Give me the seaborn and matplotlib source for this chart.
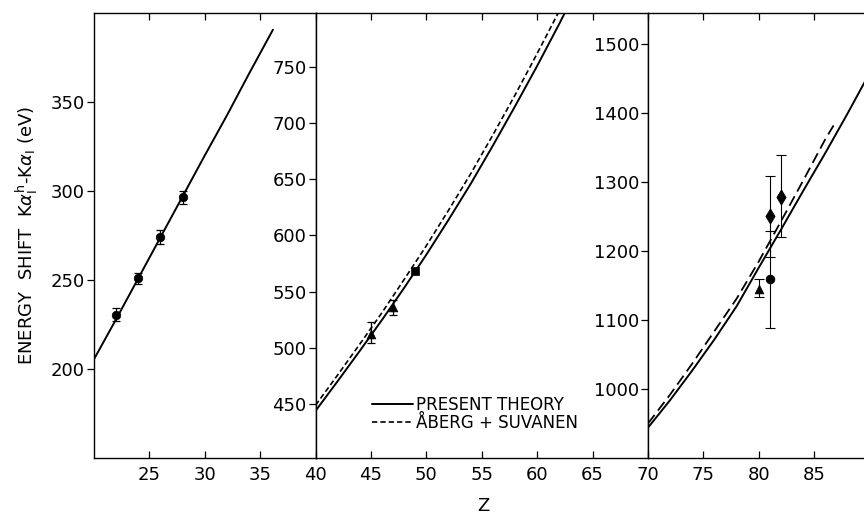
import numpy as np
import pandas as pd
import matplotlib
matplotlib.use("Agg")
import matplotlib.pyplot as plt
import seaborn as sns

# ---------------- data ----------------
left_z = [20, 22, 24, 26, 28, 30, 32, 34, 36.15]
left_theory = [205.5, 228, 251, 274, 297, 320, 342.5, 366, 390.6]
left_pts_z = [22, 24, 26, 28]
left_pts_y = [230.5, 251, 274, 296.5]
left_pts_err = [3.5, 3, 4, 3.7]

mid_z = [40, 42, 44, 46, 48, 50, 52, 54, 56, 58, 60, 62, 63]
mid_theory = [444, 470.5, 497.5, 525, 553.5, 583, 614, 646, 680, 715, 751, 788.5, 808]
mid_aberg = [449, 476, 503.5, 531.5, 561, 591, 622.5, 655, 689.5, 725, 762, 800, 820]
mid_tri_z = [45, 47]
mid_tri_y = [512, 536]
mid_tri_lo = [8, 7]
mid_tri_hi = [11, 7]
mid_sq_z = [49]
mid_sq_y = [568.5]

right_z = [70, 72, 74, 76, 78, 80, 82, 84, 86, 88, 90]
right_theory = [944, 984, 1027, 1072, 1120, 1176, 1231, 1287, 1342, 1399, 1458]
right_aberg_z = [70, 72, 74, 76, 78, 80, 82, 84, 86, 86.75]
right_aberg = [950, 992, 1037, 1084, 1131, 1185, 1243, 1302, 1362, 1382]
right_tri_z = [80]
right_tri_y = [1145]
right_tri_lo = [12]
right_tri_hi = [14]
right_dia_z = [81, 82]
right_dia_y = [1251, 1279]
right_dia_lo = [59, 59]
right_dia_hi = [58, 60]
right_circ_z = [81]
right_circ_y = [1160]
right_circ_lo = [71]
right_circ_hi = [69]

left_xticks = [25, 30, 35]
mid_xticks = [40, 45, 50, 55, 60, 65]
right_xticks = [70, 75, 80, 85]
left_yticks = [200, 250, 300, 350]
mid_yticks = [450, 500, 550, 600, 650, 700, 750]
right_yticks = [1000, 1100, 1200, 1300, 1400, 1500]

legend_labels = ["PRESENT THEORY", "ÅBERG + SUVANEN"]

# ---------------- style ----------------
sns.set_theme(style="white")
plt.rcParams["font.family"] = ["DejaVu Sans"]
plt.rcParams["mathtext.fontset"] = "dejavusans"
plt.rcParams["axes.edgecolor"] = "black"
plt.rcParams["axes.linewidth"] = 1.0
plt.rcParams["text.color"] = "black"
plt.rcParams["axes.labelcolor"] = "black"
plt.rcParams["xtick.color"] = "black"
plt.rcParams["ytick.color"] = "black"

W, H = 864, 516
fig = plt.figure(figsize=(W / 100, H / 100), dpi=100)
PX = 11.08  # pixels per unit Z
X0, YB, YT = 94, 458, 13


def make_ax(z0, z1):
    x0 = X0 + (z0 - 20) * PX
    x1 = X0 + (z1 - 20) * PX
    return fig.add_axes([x0 / W, (H - YB) / H, (x1 - x0) / W, (YB - YT) / H])


axL = make_ax(20, 40)
axM = make_ax(40, 70)
axR = make_ax(70, 90)

LW = 1.4
dash_mid = (0, (3.2, 1.8))
dash_right = (0, (6, 3))

# left panel
sns.lineplot(x=left_z, y=left_theory, ax=axL, color="black", lw=LW,
             estimator=None, sort=False)
axL.errorbar(left_pts_z, left_pts_y, yerr=left_pts_err, fmt="none",
             ecolor="black", elinewidth=0.9, capsize=3, capthick=0.9)
sns.scatterplot(x=left_pts_z, y=left_pts_y, ax=axL, marker="o", s=38,
                color="black", edgecolor="black", zorder=5)

# middle panel
sns.lineplot(x=mid_z, y=mid_theory, ax=axM, color="black", lw=LW,
             estimator=None, sort=False, label=legend_labels[0])
sns.lineplot(x=mid_z, y=mid_aberg, ax=axM, color="black", lw=1.2,
             linestyle=dash_mid, estimator=None, sort=False,
             label=legend_labels[1])
axM.errorbar(mid_tri_z, mid_tri_y, yerr=[mid_tri_lo, mid_tri_hi], fmt="none",
             ecolor="black", elinewidth=0.9, capsize=3, capthick=0.9)
sns.scatterplot(x=mid_tri_z, y=mid_tri_y, ax=axM, marker="^", s=40,
                color="black", edgecolor="black", zorder=5, legend=False)
sns.scatterplot(x=mid_sq_z, y=mid_sq_y, ax=axM, marker="s", s=40,
                color="black", edgecolor="black", zorder=5, legend=False)

# right panel
sns.lineplot(x=right_z, y=right_theory, ax=axR, color="black", lw=LW,
             estimator=None, sort=False)
sns.lineplot(x=right_aberg_z, y=right_aberg, ax=axR, color="black", lw=1.3,
             linestyle=dash_right, estimator=None, sort=False)
for zs, ys, lo, hi in [(right_tri_z, right_tri_y, right_tri_lo, right_tri_hi),
                       (right_dia_z, right_dia_y, right_dia_lo, right_dia_hi),
                       (right_circ_z, right_circ_y, right_circ_lo, right_circ_hi)]:
    axR.errorbar(zs, ys, yerr=[lo, hi], fmt="none", ecolor="black",
                 elinewidth=0.8, capsize=3.5, capthick=0.8)
sns.scatterplot(x=right_tri_z, y=right_tri_y, ax=axR, marker="^", s=40,
                color="black", edgecolor="black", zorder=5)
sns.scatterplot(x=right_dia_z, y=right_dia_y, ax=axR, marker="d", s=60,
                color="black", edgecolor="black", zorder=5)
sns.scatterplot(x=right_circ_z, y=right_circ_y, ax=axR, marker="o", s=40,
                color="black", edgecolor="black", zorder=5)

# axes limits / ticks
axL.set_xlim(20, 40); axL.set_ylim(150, 400)
axM.set_xlim(40, 70); axM.set_ylim(402, 798)
axR.set_xlim(70, 90); axR.set_ylim(900, 1545)
for ax, xt, yt in [(axL, left_xticks, left_yticks),
                   (axM, mid_xticks, mid_yticks),
                   (axR, right_xticks, right_yticks)]:
    ax.set_xticks(xt)
    ax.set_yticks(yt)
    ax.tick_params(axis="x", direction="in", top=True, bottom=True,
                   length=5, width=0.9, labelsize=13, pad=6,
                   color="black", labelcolor="black")
    ax.tick_params(axis="y", direction="out", left=True, right=False,
                   length=5, width=0.9, labelsize=13, pad=1.5,
                   color="black", labelcolor="black")
    ax.set_xlabel("")
    ax.set_ylabel("")
    for s in ax.spines.values():
        s.set_color("black")
        s.set_linewidth(1.0)
    ax.grid(False)

axL.set_ylabel(r"ENERGY  SHIFT  K$\alpha_{\mathsf{I}}^{\mathsf{h}}$-K$\alpha_{\mathsf{I}}$ (eV)",
               fontsize=13, labelpad=8, color="black")

handles = axM.get_lines()[:2]
axM.legend(handles, legend_labels, loc="lower left",
           bbox_to_anchor=(0.169, 0.058), frameon=False, fontsize=12,
           handlelength=2.5, handletextpad=0.15, labelspacing=0.0,
           borderpad=0, borderaxespad=0)

fig.text(483 / W, 1 - 506 / H, "Z", ha="center", va="center", fontsize=13,
         color="black")

fig.savefig("out.png", dpi=100)
